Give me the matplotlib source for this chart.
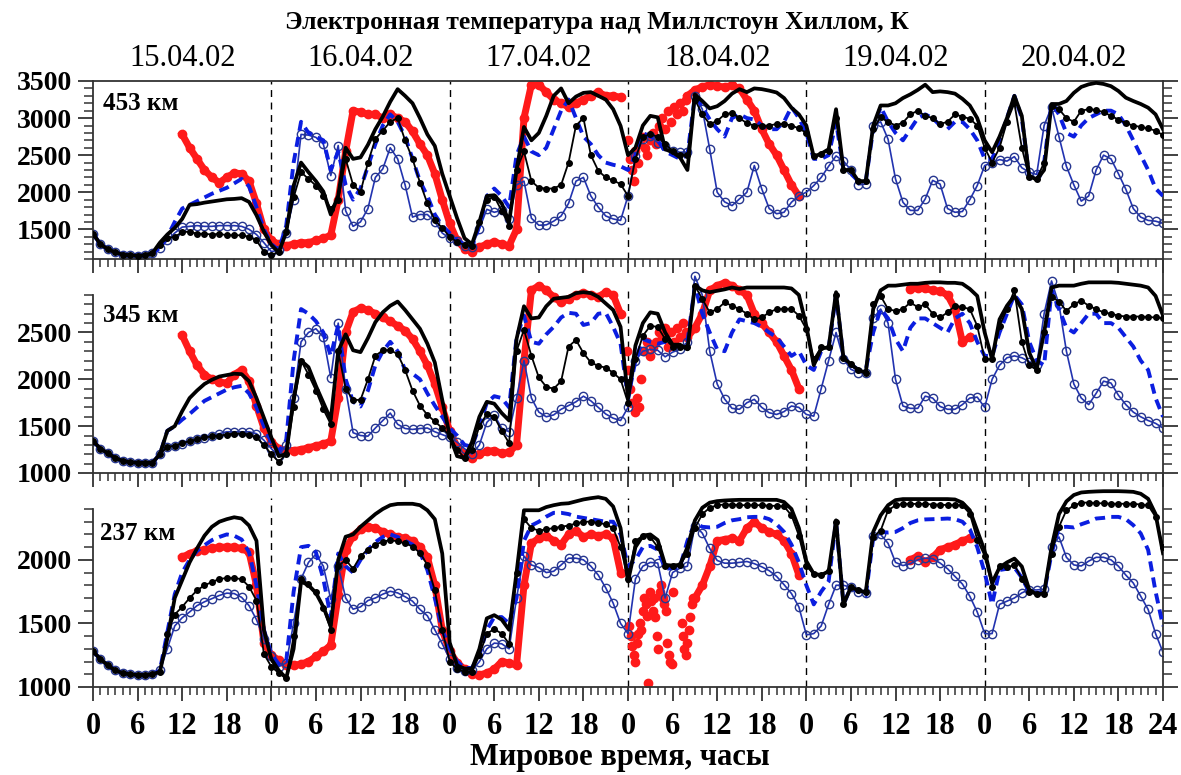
import numpy as np
import matplotlib
matplotlib.use('Agg')
import matplotlib.pyplot as plt

plt.rcParams['font.family'] = ['Liberation Serif', 'DejaVu Serif']
plt.rcParams['font.weight'] = 'bold'

nan = np.nan
hours = np.arange(145)
day_labels = ['15.04.02', '16.04.02', '17.04.02', '18.04.02', '19.04.02', '20.04.02']
hour_labels = ['0', '6', '12', '18'] * 6 + ['24']

# ---------- 453 km ----------
thick453 = [1440,1300,1230,1190,1160,1150,1145,1150,1180,1320,1430,1520,1640,1830,1840,1860,1875,1890,1905,1910,1920,1870,1690,1470,
            1290,1190,1460,2090,2400,2270,2150,2010,1700,1955,2600,2450,2470,2640,2850,3020,3220,3390,3300,3200,3000,2780,2625,2250,
            1950,1650,1380,1300,1600,1950,1960,1850,1600,2300,2880,2700,2800,3030,3300,3400,3200,3290,3340,3350,3300,3250,3120,2895,
            2500,2600,2900,3030,3010,2580,2540,2470,2300,3320,3230,3130,3160,3230,3330,3390,3350,3400,3390,3370,3345,3270,3140,3050,
            2900,2480,2520,2580,3120,2300,2300,2150,2150,2900,3170,3170,3200,3270,3320,3380,3450,3350,3360,3350,3330,3260,3170,3000,
            2700,2540,2750,3000,3300,3030,2220,2170,2300,3190,3190,3230,3340,3420,3455,3475,3460,3430,3365,3275,3230,3190,3140,3050,2850]
dots453 = [1440,1300,1230,1190,1160,1150,1145,1150,1180,1290,1380,1400,1460,1470,1440,1440,1430,1440,1420,1420,1420,1400,1350,1200,
           1150,1200,1460,1930,2270,2180,2090,1955,1780,1900,2450,2100,2000,2400,2720,2830,2950,3000,2700,2450,2130,1850,1620,1520,
           1400,1330,1290,1280,1600,1900,1940,1750,1550,2300,2550,2150,2060,2050,2050,2100,2400,2900,3000,2500,2290,2200,2160,2110,
           1950,2450,2750,2780,2750,2650,2560,2500,2500,3250,3050,2920,2960,3050,3070,3000,2930,2900,2895,2900,2920,2920,2900,2860,
           2800,2490,2520,2560,3000,2300,2300,2150,2150,2850,3010,2950,2900,2940,3050,3100,3030,3000,2920,2950,3050,3020,2990,2900,
           2600,2400,2600,2950,3200,2600,2200,2180,2400,3160,3120,3000,2950,3100,3120,3110,3080,3030,2980,2930,2900,2880,2860,2830,2770]
dash453 = [1440,1300,1230,1190,1160,1150,1145,1150,1180,1250,1400,1600,1780,1830,1880,1930,1980,2020,2060,2120,2180,2080,1800,1500,
           1300,1220,1550,2400,2950,2800,2750,2700,2300,2550,2100,1900,2050,2350,2650,2900,3050,2950,2750,2450,2150,1950,1700,1550,
           1450,1350,1300,1260,1550,1950,2050,1950,1800,2500,2750,2550,2500,2600,2850,3100,3250,3000,2750,2650,2500,2400,2370,2350,
           2300,2500,2800,2750,2700,2550,2500,2450,2500,3300,3150,2980,2850,2750,3000,3050,3000,2980,2900,2850,2850,2950,3150,3000,
           2800,2450,2450,2500,2950,2300,2250,2150,2150,2850,3150,2950,2800,2700,2850,3000,3050,3000,2900,2850,2950,2950,2850,2700,
           2450,2450,2700,3000,3300,3000,2200,2150,2400,3200,3050,2800,2750,2900,3000,3050,3100,3100,3050,2900,2700,2500,2300,2050,1950]
circ453 = [1440,1300,1230,1190,1160,1150,1145,1150,1180,1250,1350,1450,1530,1540,1550,1540,1540,1550,1550,1550,1540,1500,1430,1320,
           1200,1220,1450,1900,2780,2770,2740,2650,2225,2630,1750,1540,1600,1780,2200,2315,2600,2450,2100,1665,1700,1700,1600,1450,
           1380,1340,1270,1260,1510,1770,1730,1755,1640,2100,2150,1650,1555,1560,1610,1680,1850,2150,2200,1950,1800,1680,1640,1620,
           1950,2490,2715,2760,2670,2630,2560,2540,2540,3300,3120,2580,2000,1870,1820,1910,2000,2360,2045,1780,1710,1730,1865,1955,
           2000,2090,2200,2350,2490,2420,2300,2100,2110,2900,2950,2715,2180,1865,1755,1755,1910,2160,2110,1780,1730,1740,1900,2090,
           2360,2400,2440,2420,2480,2330,2270,2240,2900,3150,2750,2350,2100,1880,1950,2300,2500,2450,2250,2040,1780,1665,1620,1610,1580]
obs453 = ([nan] * 12 +
          [2780,2600,2450,2300,2200,2130,2200,2260,2250,2150,1850,1500] +
          [1350,1300,1280,1300,1320,1320,1350,1380,1420,1900,2550,3100,3080,3050,3050,3000,3050,3000,2950,2820,2650,2500,2250,1900] +
          [1580,1350,1240,1200,1260,1300,1330,1300,1280,1500,3000,3450,3450,3350,3250,3200,3150,3200,3250,3300,3350,3300,3300,3280] +
          [nan] * 8 +
          [3300,3380,3420,3450,3430,3420,3440,3400,3250,3100,2850,2650,2500,2300,2100,1950] +
          [nan] * 49)
scat453_h = [72.0, 72.3, 72.5, 72.8, 73.0, 73.3, 73.6, 74.0, 74.3, 74.6, 75.0, 75.4, 75.8, 76.2, 76.6, 77.0, 77.4, 77.8, 78.2, 78.6, 79.0, 79.4, 79.8]
scat453_v = [2700, 2450, 2300, 2150, 2550, 2400, 2650, 2750, 2600, 2500, 2700, 2800, 2650, 2900, 3000, 2850, 3100, 2950, 3150, 3050, 3200, 3100, 3250]

# ---------- 345 km ----------
thick345 = [1340,1260,1210,1160,1130,1115,1110,1110,1110,1200,1450,1500,1660,1800,1880,1950,1995,2030,2045,2060,2055,1980,1800,1590,
            1380,1180,1200,1800,2200,2130,1930,1750,1570,2300,2480,2310,2290,2440,2610,2715,2785,2830,2740,2640,2540,2380,2180,1780,
            1400,1180,1160,1330,1600,1760,1740,1640,1560,2430,2780,2650,2660,2780,2860,2870,2880,2920,2930,2920,2880,2810,2740,2560,
            1800,2360,2600,2715,2700,2500,2370,2370,2320,3000,2950,2930,2945,2960,2980,2965,2980,2980,2980,2980,2980,2980,2970,2900,
            2570,2150,2330,2340,2930,2230,2160,2100,2070,2750,2950,3000,3000,3010,3020,3020,3030,3035,3035,3030,3030,3020,2965,2890,
            2500,2215,2640,2785,2890,2750,2285,2107,2500,2980,3000,3000,3000,3020,3035,3035,3035,3035,3030,3020,3010,3000,2980,2890,2680]
dots345 = [1340,1260,1210,1160,1130,1115,1110,1110,1110,1200,1280,1290,1320,1340,1360,1380,1390,1400,1410,1420,1420,1410,1380,1300,
           1200,1120,1200,1700,2200,2050,1880,1680,1520,2300,1900,1780,1780,2000,2250,2310,2310,2270,2100,1880,1720,1620,1550,1480,
           1400,1250,1160,1250,1500,1630,1600,1450,1320,2300,2530,2250,2020,1920,1900,1980,2350,2420,2280,2180,2143,2125,2070,2000,
           1750,2215,2465,2570,2560,2430,2350,2350,2350,3000,2857,2714,2750,2820,2785,2750,2700,2640,2660,2714,2750,2750,2750,2680,
           2535,2215,2340,2350,2900,2230,2160,2100,2070,2800,2890,2750,2730,2750,2820,2770,2800,2700,2660,2714,2785,2770,2750,2570,
           2215,2215,2570,2750,2950,2400,2150,2100,2500,2880,2830,2730,2800,2840,2785,2750,2714,2700,2680,2670,2670,2670,2665,2660,2655]
dash345 = [1340,1260,1210,1160,1130,1115,1110,1110,1110,1200,1450,1500,1570,1630,1700,1770,1810,1850,1890,1915,1930,1850,1700,1500,
           1330,1230,1350,2200,2750,2700,2620,2500,2250,2580,2000,1760,1710,1880,2150,2300,2400,2300,2100,2060,2000,1850,1720,1600,
           1480,1400,1300,1280,1500,1750,1820,1800,1700,2450,2680,2400,2380,2480,2560,2660,2710,2700,2580,2600,2700,2710,2560,2380,
           1800,2200,2430,2400,2380,2400,2350,2350,2400,3000,2700,2500,2320,2300,2500,2640,2620,2600,2560,2500,2450,2350,2250,2300,
           2150,2100,2300,2330,2900,2230,2160,2100,2100,2500,2750,2650,2430,2300,2550,2650,2650,2600,2550,2500,2650,2700,2600,2400,
           2250,2250,2500,2700,2900,2800,2400,2200,2150,2950,2750,2550,2500,2600,2700,2700,2600,2600,2550,2450,2350,2200,2100,1800,1600]
circ345 = [1340,1260,1210,1160,1130,1115,1110,1110,1110,1200,1280,1290,1310,1340,1360,1370,1400,1420,1440,1440,1440,1440,1420,1350,
           1260,1180,1300,1800,2400,2500,2540,2450,2018,2600,1900,1430,1400,1393,1480,1560,1640,1520,1475,1465,1475,1480,1440,1410,
           1380,1330,1260,1200,1300,1540,1620,1480,1440,1800,2200,1800,1650,1600,1620,1680,1720,1760,1820,1770,1700,1630,1585,1560,
           1700,2200,2300,2320,2310,2240,2290,2320,2400,3100,2900,2300,1950,1790,1690,1680,1750,1786,1700,1643,1625,1655,1715,1700,
           1625,1607,1900,2200,2500,2215,2107,2070,2070,2650,2750,2600,2000,1715,1690,1690,1820,1800,1710,1680,1680,1730,1800,1810,
           1700,2000,2150,2230,2250,2230,2190,2150,2700,3050,2800,2300,1950,1800,1730,1850,1980,1960,1830,1730,1650,1600,1560,1530,1480]
obs345 = ([nan] * 12 +
          [2470,2300,2150,2050,2000,1970,1960,2050,2100,1980,1720,1480] +
          [1330,1260,1240,1240,1250,1270,1290,1310,1340,1800,2500,2720,2760,2740,2700,2660,2620,2570,2520,2430,2300,2150,1950,1700] +
          [1450,1280,1200,1160,1200,1230,1240,1210,1220,1300,2200,2950,3000,2950,2880,2820,2860,2900,2920,2900,2880,2930,2900,2700] +
          [nan] * 8 +
          [2450,2550,2700,2950,3000,3030,3000,2950,2900,2700,2600,2500,2400,2250,2100,1900] +
          [nan] * 14 +
          [2960,2980,2970,2950,2940,2900,2750,2400,2450] +
          [nan] * 26)
scat345_h = [71.8, 72.0, 72.3, 72.6, 72.9, 73.2, 73.5, 73.8, 74.2, 74.6, 75.0, 75.4, 75.8, 76.2, 76.6, 77.0, 77.4, 77.8, 78.2, 78.6, 79.0, 79.4, 79.8]
scat345_v = [2300, 2100, 1900, 1750, 1650, 1800, 1700, 2000, 2300, 2400, 2250, 2350, 2400, 2500, 2450, 2550, 2350, 2500, 2400, 2550, 2450, 2600, 2500]

# ---------- 237 km ----------
thick237 = [1280,1220,1170,1130,1110,1100,1095,1095,1100,1120,1380,1700,1840,1980,2090,2190,2260,2300,2320,2335,2325,2270,2150,1450,
            1220,1130,1070,1300,1830,1800,1740,1630,1480,2000,2182,2200,2260,2310,2360,2400,2430,2440,2441,2441,2430,2390,2320,2050,
            1350,1170,1145,1143,1300,1540,1565,1530,1450,1900,2390,2390,2390,2415,2430,2441,2445,2460,2475,2485,2493,2480,2420,2250,
            1830,2100,2190,2200,2156,1960,1955,1961,2100,2310,2410,2450,2462,2467,2470,2472,2472,2472,2472,2472,2472,2455,2400,2250,
            1990,1890,1880,1910,2311,1650,1785,1760,1745,2220,2350,2430,2470,2478,2478,2478,2478,2478,2478,2478,2475,2450,2390,2230,
            2070,1820,1940,1980,2010,1948,1766,1727,1740,2100,2360,2460,2510,2530,2535,2538,2540,2540,2540,2538,2535,2520,2480,2360,2052]
dots237 = [1280,1220,1170,1130,1110,1100,1095,1095,1100,1120,1420,1570,1630,1700,1760,1800,1825,1850,1857,1857,1848,1790,1680,1260,
           1160,1110,1070,1400,1850,1810,1750,1620,1450,1950,2000,1930,2030,2080,2120,2143,2156,2145,2130,2105,2055,1960,1760,1450,
           1200,1140,1120,1120,1250,1420,1455,1420,1340,1900,2320,2250,2230,2240,2250,2260,2270,2286,2300,2300,2290,2280,2250,2100,
           1850,2150,2190,2180,2100,1950,1950,1960,2050,2250,2360,2410,2430,2435,2435,2430,2430,2430,2430,2425,2425,2420,2350,2190,
           1950,1890,1880,1910,2300,1650,1785,1760,1745,2180,2230,2390,2428,2440,2440,2440,2440,2435,2435,2430,2430,2428,2363,2160,
           2030,1790,1950,1940,1960,1850,1750,1730,1735,2050,2260,2390,2428,2450,2450,2445,2445,2441,2441,2441,2441,2435,2428,2338,2104]
dash237 = [1280,1220,1170,1130,1110,1100,1095,1095,1100,1130,1430,1730,1900,2000,2070,2115,2155,2180,2200,2190,2160,2060,1800,1450,
           1260,1180,1200,1750,2100,2110,2060,1850,1550,2050,1950,1900,2000,2080,2140,2180,2200,2180,2150,2120,2060,1920,1700,1450,
           1300,1200,1150,1150,1250,1450,1550,1550,1500,1700,2150,2270,2300,2340,2370,2370,2360,2340,2330,2320,2310,2300,2300,2200,
           1950,2000,2100,2110,2080,1930,1935,1945,2150,2290,2260,2255,2260,2290,2311,2320,2335,2338,2338,2320,2280,2220,2120,1980,
           1800,1650,1750,1830,2300,1650,1785,1750,1720,2170,2220,2215,2220,2250,2290,2311,2318,2320,2322,2325,2320,2300,2240,2100,
           1900,1650,1920,1930,1940,1860,1745,1740,1740,2050,2255,2260,2255,2280,2300,2325,2330,2338,2338,2320,2273,2208,2078,1750,1480]
circ237 = [1280,1220,1170,1130,1110,1100,1095,1095,1100,1130,1300,1480,1545,1590,1640,1670,1695,1720,1738,1735,1705,1640,1530,1380,
           1240,1160,1190,1500,1850,1980,2045,1950,1690,1950,1700,1612,1630,1680,1700,1730,1753,1740,1710,1675,1610,1560,1450,1340,
           1220,1150,1125,1130,1200,1300,1345,1340,1300,1700,2030,1960,1940,1900,1910,1960,2013,2013,2000,1950,1880,1780,1660,1500,
           1420,1850,1950,1980,1975,1700,1900,1935,1950,2270,2210,2090,1995,1974,1974,1980,1987,1970,1945,1915,1870,1805,1735,1630,
           1410,1420,1480,1650,1800,1800,1785,1745,1740,2190,2200,2130,1980,1955,1970,2000,2013,2010,1975,1930,1870,1810,1714,1590,
           1420,1420,1650,1675,1700,1740,1766,1763,1770,2100,2180,2020,1960,1952,1990,2020,2020,2000,1950,1880,1818,1714,1610,1420,1273]
obs237 = ([nan] * 12 +
          [2020,2050,2070,2080,2090,2100,2100,2100,2090,2060,1800,1350] +
          [1250,1210,1170,1170,1180,1200,1240,1280,1330,1720,2080,2190,2240,2260,2250,2220,2200,2180,2170,2150,2100,2020,1800,1450] +
          [1280,1190,1140,1100,1095,1110,1140,1200,1190,1170,1800,2130,2170,2190,2150,2120,2200,2230,2180,2200,2190,2200,2170,1900] +
          [nan] * 9 +
          [1700,1800,1950,2150,2160,2170,2150,2250,2300,2250,2220,2200,2150,2050,1880] +
          [nan] * 14 +
          [2000,2030,1980,2020,2080,2100,2120,2150,2170] +
          [nan] * 26)
scat237_h = [72.2, 72.4, 72.6, 72.8, 73.0, 73.2, 73.4, 73.6, 73.8, 74.0, 74.2, 74.4, 74.6, 74.7, 74.9, 75.1, 75.3, 75.5, 75.7, 75.9,
             76.1, 76.3, 76.5, 76.7, 76.9, 77.1, 77.3, 77.5, 77.7, 77.9, 78.0, 79.2, 79.4, 79.6, 79.8, 80.0, 80.2, 80.4, 80.6, 80.8]
scat237_v = [1480, 1400, 1320, 1250, 1200, 1350, 1420, 1500, 1450, 1600, 1700, 1650, 1560, 1030, 1750, 1680, 1600, 1700, 1550, 1400,
             1300, 1750, 1800, 1700, 1650, 1600, 1350, 1250, 1200, 1180, 1750, 1500, 1400, 1300, 1250, 1350, 1450, 1550, 1650, 1700]

# ---------- figure ----------
W, H = 1181, 775
fig = plt.figure(figsize=(W / 100, H / 100), dpi=100)
fig.patch.set_facecolor('white')

x0, x1 = 93, 1163
def box(ytop, ybot):
    return [x0 / W, 1 - ybot / H, (x1 - x0) / W, (ybot - ytop) / H]

red = '#ff1a1a'
blue = '#0b1ee0'
cblue = '#2233b0'

panels = [
    dict(pos=box(81, 259), ylim=(1100, 3500), ymax=3500, major=[1500, 2000, 2500, 3000, 3500],
         data=(thick453, dots453, dash453, circ453, obs453, scat453_h, scat453_v), dash_top=3500),
    dict(pos=box(259, 473), ylim=(1000, 1000 + 214 * 1900 / 178), ymax=2900, major=[1000, 1500, 2000, 2500],
         data=(thick345, dots345, dash345, circ345, obs345, scat345_h, scat345_v), dash_top=2980),
    dict(pos=box(473, 687), ylim=(1000, 1000 + 214 * 1400 / 178), ymax=2400, major=[1000, 1500, 2000],
         data=(thick237, dots237, dash237, circ237, obs237, scat237_h, scat237_v), dash_top=2490),
]

for i, p in enumerate(panels):
    ax = fig.add_axes(p['pos'])
    ax.patch.set_visible(False)
    thick, dots, dash, circ, obs, sh, sv = p['data']

    # observations first, model curves on top
    ax.plot(hours, obs, color=red, lw=5, marker='o', ms=6, zorder=1)
    ax.plot(sh, sv, 'o', color=red, ms=6, zorder=1)
    ax.plot(hours, circ, color=cblue, lw=1.2, marker='o', ms=6, mfc='none', mec='#26368f', mew=1.0, zorder=2)
    ax.plot(hours, dash, color=blue, lw=2.8, dashes=(2.6, 1.6), zorder=3)
    ax.plot(hours, dots, color='black', lw=1.3, marker='o', ms=4, zorder=4)
    ax.plot(hours, thick, color='black', lw=2.7, zorder=5)

    for d in range(24, 144, 24):
        ax.plot([d, d], [p['ylim'][0], p['dash_top']], color='black', lw=1, ls=(0, (5, 4)), zorder=0)

    ax.set_xlim(0, 144)
    ax.set_ylim(*p['ylim'])
    ax.set_xticks(range(0, 145, 6))
    ax.set_xticks(range(0, 145, 1), minor=True)
    ax.set_yticks(p['major'])
    ax.set_yticks(range(p['ylim'][0] if i == 0 else 1000, p['ymax'] + 1, 100), minor=True)

    for s in ax.spines.values():
        s.set_color('#333333')
        s.set_linewidth(1.3)
    if i > 0:
        ax.spines['top'].set_visible(False)
        ax.spines['left'].set_bounds(1000, p['ymax'])

    ax.tick_params(axis='y', which='both', direction='out', left=True, right=True, colors='#333333',
                   labelcolor='black', labelsize=20, pad=4)
    ax.tick_params(axis='y', which='major', length=11, width=1.3)
    ax.tick_params(axis='y', which='minor', length=6.5, width=1.1)
    ax.tick_params(axis='x', which='both', direction='out', top=False, bottom=True, colors='#333333',
                   labelcolor='black', labelsize=22, pad=8)
    ax.tick_params(axis='x', which='major', length=10, width=1.3)
    ax.tick_params(axis='x', which='minor', length=5.5, width=1.1)
    if i == 2:
        ax.set_xticklabels(hour_labels)
    else:
        ax.tick_params(axis='x', labelbottom=False)

# texts
fig.text(597 / W, 1 - 22 / H, 'Электронная температура над Миллстоун Хиллом, К',
         ha='center', va='center', fontsize=18.5, fontweight='bold')
for d, lab in enumerate(day_labels):
    xc = x0 + (d * 24 + 12) * (x1 - x0) / 144
    fig.text(xc / W, 1 - 58 / H, lab, ha='center', va='center', fontsize=22, fontweight='normal')
fig.text(103 / W, 1 - 104 / H, '453 км', ha='left', va='center', fontsize=18, fontweight='bold')
fig.text(103 / W, 1 - 316 / H, '345 км', ha='left', va='center', fontsize=18, fontweight='bold')
fig.text(100 / W, 1 - 534 / H, '237 км', ha='left', va='center', fontsize=18, fontweight='bold')
fig.text(620 / W, 1 - 757 / H, 'Мировое время, часы', ha='center', va='center', fontsize=22, fontweight='bold')

fig.savefig('out.png', dpi=100, facecolor='white')
